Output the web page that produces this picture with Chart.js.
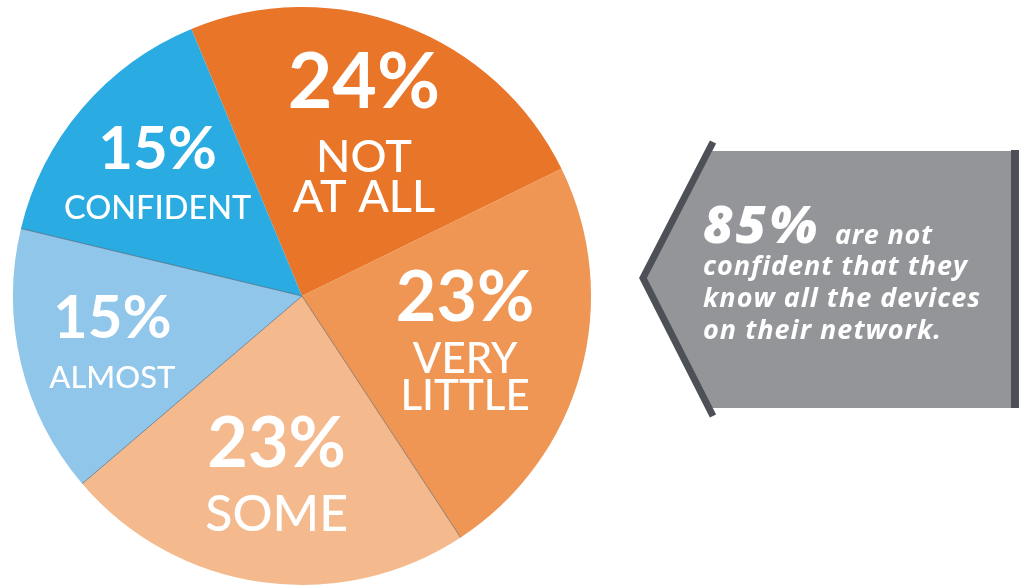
<!DOCTYPE html>
<html>
<head>
<meta charset="utf-8">
<title>Device confidence</title>
<script src="https://cdn.jsdelivr.net/npm/chart.js@4.4.1/dist/chart.umd.min.js"></script>
<style>
    html, body { margin: 0; padding: 0; background: #fff; }
    #wrap { position: relative; width: 1025px; height: 586px; }
</style>
</head>
<body>
<div id="wrap">
    <canvas id="pieChart" width="1025" height="586"></canvas>
</div>
<script>
// datos
const categories = ['NOT AT ALL', 'VERY LITTLE', 'SOME', 'ALMOST', 'CONFIDENT'];
const categoryLines = [['NOT', 'AT ALL'], ['VERY', 'LITTLE'], ['SOME'], ['ALMOST'], ['CONFIDENT']];
const shares = [24, 23, 23, 15, 15];
const sliceColors = ['#E87528', '#EF9654', '#F4BA8E', '#8FC6EA', '#2AABE2'];

const calloutHead = '85%';
const calloutLines = ['are not', 'confident that they', 'know all the devices', 'on their network.'];

// estilo de etiquetas por porcion: distancia al centro (fraccion del radio), tamaños y separacion
const labelStyle = [
    { r: 0.606, pct: 77, cat: 45, gap: 0.42 },
    { r: 0.585, pct: 70, cat: 42, gap: 0.31 },
    { r: 0.623, pct: 70, cat: 50, gap: 0.40 },
    { r: 0.675, pct: 60, cat: 31, gap: 0.46 },
    { r: 0.657, pct: 60, cat: 32.5, gap: 0.44 }
];
const CAP = 0.7165; // altura de mayusculas de Lato

// etiquetas dentro de cada porcion
const sliceLabels = {
    id: 'sliceLabels',
    afterDatasetsDraw(chart) {
        const ctx = chart.ctx;
        const arcs = chart.getDatasetMeta(0).data;

        // separadores finos entre algunas porciones
        ctx.save();
        ctx.strokeStyle = 'rgba(70,75,85,0.55)';
        ctx.lineWidth = 1;
        [2, 3, 4].forEach(i => {
            const a = arcs[i];
            ctx.beginPath();
            ctx.moveTo(a.x, a.y);
            ctx.lineTo(a.x + Math.cos(a.startAngle) * a.outerRadius, a.y + Math.sin(a.startAngle) * a.outerRadius);
            ctx.stroke();
        });
        ctx.restore();

        arcs.forEach((arc, i) => {
            const st = labelStyle[i];
            const mid = (arc.startAngle + arc.endAngle) / 2;
            const cx = arc.x + Math.cos(mid) * arc.outerRadius * st.r;
            const cy = arc.y + Math.sin(mid) * arc.outerRadius * st.r;

            const pctH = st.pct * CAP;
            const catH = st.cat * CAP;
            const gap = st.pct * st.gap;
            const pitch = catH + 7;
            const lines = categoryLines[i];
            const total = pctH + gap + catH + (lines.length - 1) * pitch;
            let top = cy - total / 2;

            ctx.save();
            ctx.fillStyle = '#fff';
            ctx.textAlign = 'center';
            ctx.textBaseline = 'alphabetic';
            ctx.font = `700 ${st.pct}px Lato`;
            ctx.fillText(shares[i] + '%', cx, top + pctH);
            ctx.font = `500 ${st.cat}px Lato`;
            let base = top + pctH + gap + catH;
            lines.forEach(t => {
                ctx.fillText(t, cx, base);
                base += pitch;
            });
            ctx.restore();
        });
    }
};

// escribe un texto ajustando el espaciado entre letras a un ancho dado
function fitText(ctx, text, x, y, width) {
    ctx.letterSpacing = '0px';
    const w = ctx.measureText(text).width;
    const ls = (width - w) / Math.max(text.length - 1, 1);
    ctx.letterSpacing = ls.toFixed(2) + 'px';
    ctx.fillText(text, x, y);
    ctx.letterSpacing = '0px';
}

// flecha gris con el texto resumen
const callout = {
    id: 'callout',
    afterDraw(chart) {
        const ctx = chart.ctx;
        ctx.save();
        ctx.fillStyle = '#939598';
        ctx.beginPath();
        ctx.moveTo(712, 151);
        ctx.lineTo(1011, 151);
        ctx.lineTo(1011, 408);
        ctx.lineTo(712, 408);
        ctx.lineTo(645, 278);
        ctx.closePath();
        ctx.fill();

        ctx.strokeStyle = '#4D5056';
        ctx.lineWidth = 7;
        ctx.lineJoin = 'miter';
        ctx.beginPath();
        ctx.moveTo(713, 142);
        ctx.lineTo(643, 278);
        ctx.lineTo(713, 416);
        ctx.stroke();

        ctx.fillStyle = '#4D5056';
        ctx.fillRect(1011, 150, 8, 258);

        ctx.fillStyle = '#fff';
        ctx.textAlign = 'left';
        ctx.textBaseline = 'alphabetic';
        ctx.font = 'italic 800 52px "Open Sans"';
        fitText(ctx, calloutHead, 703, 243, 114);
        ctx.font = 'italic 700 27px "Open Sans"';
        fitText(ctx, calloutLines[0], 835, 244, 97);
        fitText(ctx, calloutLines[1], 703, 275, 264);
        fitText(ctx, calloutLines[2], 703, 307, 277);
        fitText(ctx, calloutLines[3], 703, 339, 238);
        ctx.restore();
    }
};

const ctx = document.getElementById('pieChart').getContext('2d');
new Chart(ctx, {
    type: 'pie',
    data: {
        labels: categories,
        datasets: [{
            data: shares,
            backgroundColor: sliceColors,
            borderWidth: 0,
            offset: 0,
            hoverOffset: 0
        }]
    },
    options: {
        responsive: false,
        animation: false,
        devicePixelRatio: 1,
        rotation: -22.5,
        layout: { padding: { left: 13, right: 434, top: 7, bottom: 1 } },
        plugins: {
            legend: { display: false },
            tooltip: { enabled: false }
        },
        events: []
    },
    plugins: [sliceLabels, callout]
});
</script>
</body>
</html>
